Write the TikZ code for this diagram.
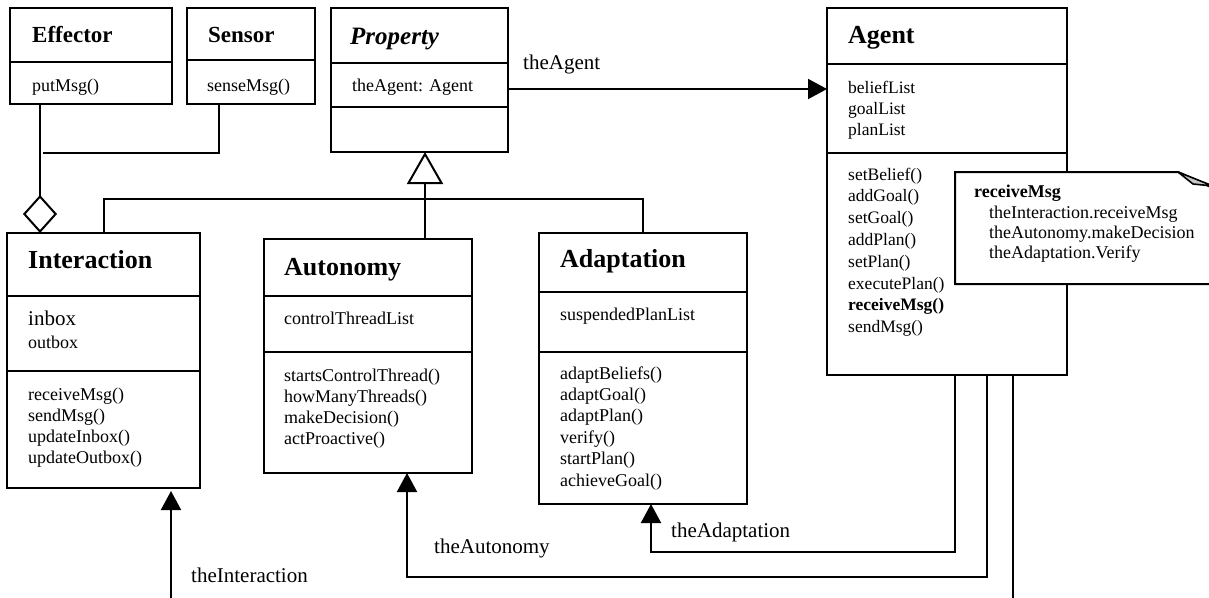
\documentclass[tikz,border=0pt]{standalone}
\usepackage{fontspec}
\setmainfont{Liberation Serif}
\usetikzlibrary{arrows.meta}
\begin{document}
\begin{tikzpicture}[x=1pt,y=-1pt,
  box/.style={draw, line width=2.4pt, inner sep=0pt, outer sep=0pt, anchor=north west},
  divider/.style={line width=2.4pt},
  txt/.style={anchor=base west, inner sep=0pt, font=\fontsize{18}{21}\selectfont},
  smalltxt/.style={anchor=base west, inner sep=0pt, font=\fontsize{17.5}{21}\selectfont},
  ttl/.style={anchor=base west, inner sep=0pt, font=\fontsize{26}{30}\selectfont\bfseries},
  smallttl/.style={anchor=base west, inner sep=0pt, font=\fontsize{23}{27}\selectfont\bfseries},
  lbl/.style={anchor=base west, inner sep=0pt, font=\fontsize{21}{25}\selectfont},
  conn/.style={line width=2pt},
  assoc/.style={conn, -{Triangle[length=19pt,width=20pt]}},
  gen/.style={conn, -{Triangle[open,length=32pt,width=36pt,fill=white]}},
  aggr/.style={conn, -{Diamond[open,length=38pt,width=34pt,fill=white]}},
]
\useasboundingbox (0,0) rectangle (1209,597);
\fill[white] (0,0) rectangle (1209,597);
\clip (0,0) rectangle (1209,597);

% ---- class boxes ----
\node[box, minimum width=162pt, minimum height=96pt]  (effector)    at (10,8)   {};
\node[box, minimum width=128pt, minimum height=96pt]  (sensor)      at (187,8)  {};
\node[box, minimum width=177pt, minimum height=144pt] (property)    at (331,8)  {};
\node[box, minimum width=240pt, minimum height=367pt] (agent)       at (827,8)  {};
\node[box, minimum width=193pt, minimum height=255pt] (interaction) at (7,233)  {};
\node[box, minimum width=208pt, minimum height=234pt] (autonomy)    at (264,239){};
\node[box, minimum width=208pt, minimum height=271pt] (adaptation)  at (539,233){};

% compartment dividers
\draw[divider] (effector.west |- 0,62)   -- (effector.east |- 0,62);
\draw[divider] (sensor.west |- 0,60)     -- (sensor.east |- 0,60);
\draw[divider] (property.west |- 0,63)   -- (property.east |- 0,63);
\draw[divider] (property.west |- 0,107)  -- (property.east |- 0,107);
\draw[divider] (agent.west |- 0,64)      -- (agent.east |- 0,64);
\draw[divider] (agent.west |- 0,153)     -- (agent.east |- 0,153);
\draw[divider] (interaction.west |- 0,296) -- (interaction.east |- 0,296);
\draw[divider] (interaction.west |- 0,371) -- (interaction.east |- 0,371);
\draw[divider] (autonomy.west |- 0,296)  -- (autonomy.east |- 0,296);
\draw[divider] (autonomy.west |- 0,352)  -- (autonomy.east |- 0,352);
\draw[divider] (adaptation.west |- 0,292) -- (adaptation.east |- 0,292);
\draw[divider] (adaptation.west |- 0,352) -- (adaptation.east |- 0,352);

% ---- class texts ----
\node[smallttl] (effT) at (32,42) {Effector};
\node[txt] (effM) at (32,91) {putMsg()};
\node[smallttl] (senT) at (208,42) {Sensor};
\node[txt] (senM) at (207,91) {senseMsg()};
\node[anchor=base west, inner sep=0pt, font=\fontsize{25}{29}\selectfont\bfseries\itshape] (proT) at (350,44) {Property};
\node[txt] (proA) at (352,91) {theAgent: Agent};

\node[ttl] (ageT) at (848,43) {Agent};
\foreach \t [count=\i] in {beliefList, goalList, planList}
  \node[smalltxt] (ageA\i) at (848,{93+(\i-1)*21}) {\t};
\foreach \t [count=\i] in {setBelief(), addGoal(), setGoal(), addPlan(), setPlan(), executePlan(), {\textbf{receiveMsg()}}, sendMsg()}
  \node[smalltxt] (ageM\i) at (848,{180+(\i-1)*21.8}) {\t};

\node[ttl] (intT) at (28,268) {Interaction};
\node[anchor=base west, inner sep=0pt, font=\fontsize{21}{25}\selectfont] (intA1) at (28,325) {inbox};
\node[txt] (intA2) at (28,348) {outbox};
\foreach \t [count=\i] in {receiveMsg(), sendMsg(), updateInbox(), updateOutbox()}
  \node[txt] (intM\i) at (28,{400+(\i-1)*21.3}) {\t};

\node[ttl] (autT) at (284,275) {Autonomy};
\node[txt] (autA) at (284,324) {controlThreadList};
\foreach \t [count=\i] in {startsControlThread(), howManyThreads(), makeDecision(), actProactive()}
  \node[txt] (autM\i) at (284,{381+(\i-1)*21}) {\t};

\node[ttl] (adaT) at (560,267) {Adaptation};
\node[txt] (adaA) at (560,320) {suspendedPlanList};
\foreach \t [count=\i] in {adaptBeliefs(), adaptGoal(), adaptPlan(), verify(), startPlan(), achieveGoal()}
  \node[txt] (adaM\i) at (560,{379+(\i-1)*21.4}) {\t};

% ---- relations ----
% aggregation of effector and sensor into interaction
\draw[aggr] (effector.south -| 40,0) -- (interaction.north -| 40,0);
\coordinate (senEnd) at (43,153);
\draw[conn] (sensor.south -| 219,0) |- (senEnd);

% generalization of the three properties
\draw[gen] (autonomy.north -| 425,0) -- (property.south -| 425,0);
\draw[conn] (interaction.north -| 104,0) |- (643,199) -- (adaptation.north -| 643,0);

% property -> agent
\draw[assoc] (property.east |- 0,89) -- (agent.west |- 0,89);
\node[lbl] (lAgent) at (523,69) {theAgent};

% agent -> properties
\draw[assoc] (agent.south -| 955,0) |- (651,552) -- (adaptation.south -| 651,0);
\node[lbl] (lAdapt) at (671,537) {theAdaptation};
\draw[assoc] (agent.south -| 987,0) |- (407,577) -- (autonomy.south -| 407,0);
\node[lbl] (lAuto) at (434,553) {theAutonomy};
\coordinate (agentOut) at (1013,600);
\draw[conn] (agent.south -| 1013,0) -- (agentOut);
\coordinate (interIn) at (171,600);
\draw[assoc] (interIn) -- ([yshift=-3pt]interaction.south -| 171,0);
\node[lbl] (lInter) at (191,582) {theInteraction};

% ---- note on receiveMsg ----
\draw[line width=2pt, fill=white] (955,172) -- (1178,172) -- (1213,188) -- (1213,284) -- (955,284) -- cycle;
\draw[line width=1.6pt, fill=black!22, line join=round] (1178,172) -- (1193,184) -- (1213,186) -- cycle;
\node[anchor=base west, inner sep=0pt, font=\fontsize{18}{21}\selectfont\bfseries] (noteT) at (974,197) {receiveMsg};
\foreach \t [count=\i] in {theInteraction.receiveMsg, theAutonomy.makeDecision, theAdaptation.Verify}
  \node[txt] (noteL\i) at (989,{218.5+(\i-1)*20}) {\t};
\end{tikzpicture}
\end{document}
